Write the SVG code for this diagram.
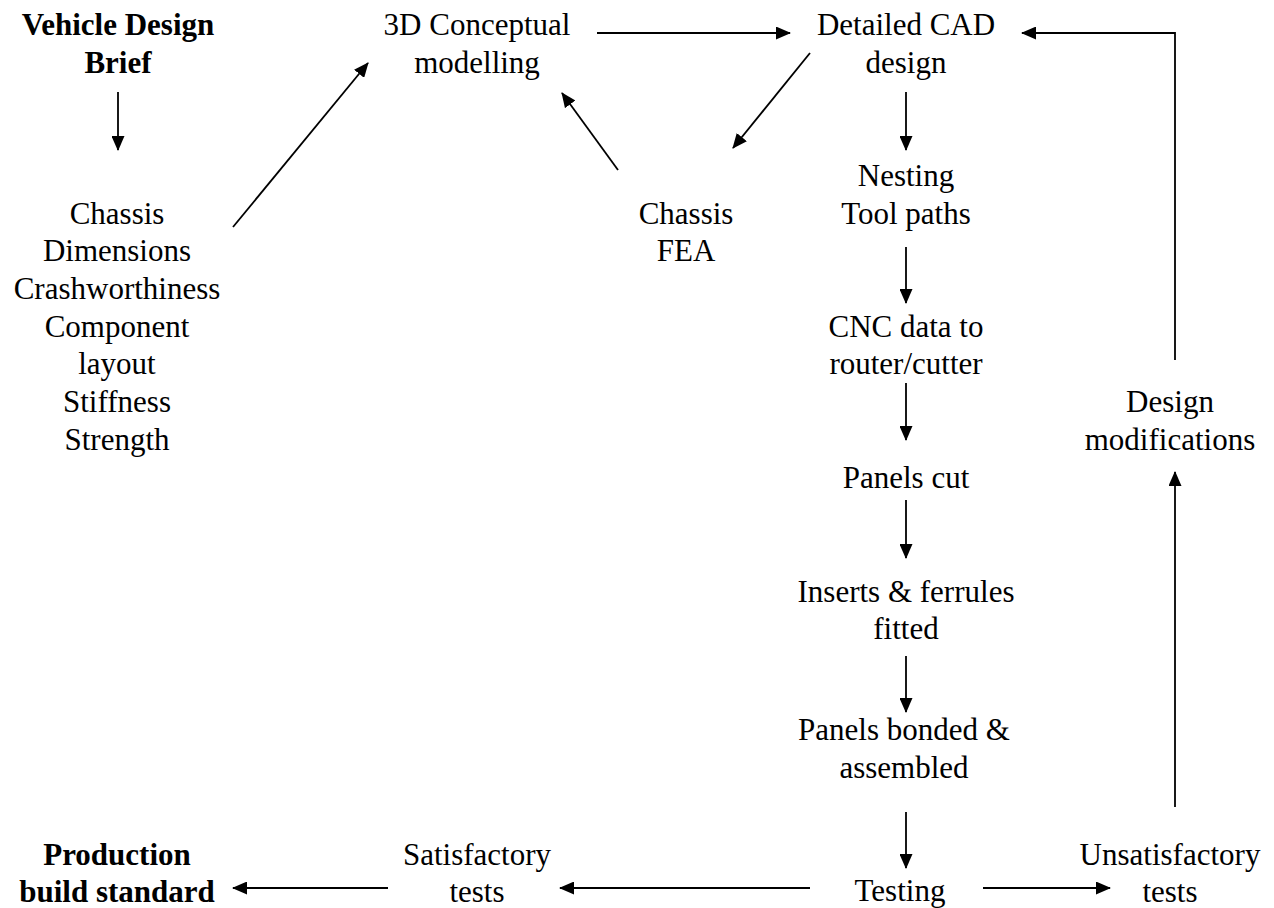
<svg xmlns="http://www.w3.org/2000/svg" width="1274" height="908" viewBox="0 0 1274 908">
<style>
text{font-family:"Liberation Serif","Times New Roman",serif;font-size:31px;fill:#000;text-anchor:middle}
.b{font-weight:bold}
.c{stroke:#000;stroke-width:1.8;fill:none;marker-end:url(#ah)}
</style>
<defs>
<marker id="ah" markerUnits="userSpaceOnUse" markerWidth="15" markerHeight="13" refX="14" refY="6.5" orient="auto">
<path d="M0,0 L15,6.5 L0,13 z" fill="#000"/>
</marker>
</defs>
<rect width="1274" height="908" fill="#fff"/>
<g id="brief"><text class="b" x="118" y="35">Vehicle Design</text><text class="b" x="118" y="72.5">Brief</text></g>
<g id="requirements"><text x="117" y="223.5">Chassis</text><text x="117" y="261.2">Dimensions</text><text x="117" y="298.9">Crashworthiness</text><text x="117" y="336.6">Component</text><text x="117" y="374.3">layout</text><text x="117" y="412">Stiffness</text><text x="117" y="449.7">Strength</text></g>
<g id="concept"><text x="477" y="35">3D Conceptual</text><text x="477" y="72.5">modelling</text></g>
<g id="cad"><text x="906" y="35">Detailed CAD</text><text x="906" y="72.5">design</text></g>
<g id="fea"><text x="686" y="223.5">Chassis</text><text x="686" y="261">FEA</text></g>
<g id="nesting"><text x="906" y="186">Nesting</text><text x="906" y="223.5">Tool paths</text></g>
<g id="cnc"><text x="906" y="336.6">CNC data to</text><text x="906" y="374.3">router/cutter</text></g>
<g id="cut"><text x="906" y="488">Panels cut</text></g>
<g id="inserts"><text x="906" y="601.5">Inserts &amp; ferrules</text><text x="906" y="639">fitted</text></g>
<g id="bonded"><text x="904" y="740">Panels bonded &amp;</text><text x="904" y="777.5">assembled</text></g>
<g id="testing"><text x="900" y="901">Testing</text></g>
<g id="mods"><text x="1170" y="412">Design</text><text x="1170" y="449.7">modifications</text></g>
<g id="unsat"><text x="1170" y="865">Unsatisfactory</text><text x="1170" y="902">tests</text></g>
<g id="sat"><text x="477" y="865">Satisfactory</text><text x="477" y="902">tests</text></g>
<g id="production"><text class="b" x="117" y="865">Production</text><text class="b" x="117" y="902">build standard</text></g>
<g id="connectors">
<line class="c" x1="118" y1="92" x2="118" y2="150"/>
<line class="c" x1="233" y1="227" x2="368" y2="63"/>
<line class="c" x1="597" y1="33" x2="790" y2="33"/>
<line class="c" x1="810" y1="53" x2="733" y2="148"/>
<line class="c" x1="618" y1="170" x2="562" y2="93"/>
<line class="c" x1="906" y1="92" x2="906" y2="150"/>
<line class="c" x1="906" y1="247" x2="906" y2="303"/>
<line class="c" x1="906" y1="383" x2="906" y2="440"/>
<line class="c" x1="906" y1="500" x2="906" y2="558"/>
<line class="c" x1="906" y1="656" x2="906" y2="712"/>
<line class="c" x1="906" y1="812" x2="906" y2="868"/>
<line class="c" x1="983" y1="888" x2="1110" y2="888"/>
<line class="c" x1="810" y1="888" x2="560" y2="888"/>
<line class="c" x1="388" y1="888" x2="233" y2="888"/>
<line class="c" x1="1175" y1="807" x2="1175" y2="472"/>
<polyline class="c" points="1175,360 1175,33 1022,33"/>
</g>
</svg>
